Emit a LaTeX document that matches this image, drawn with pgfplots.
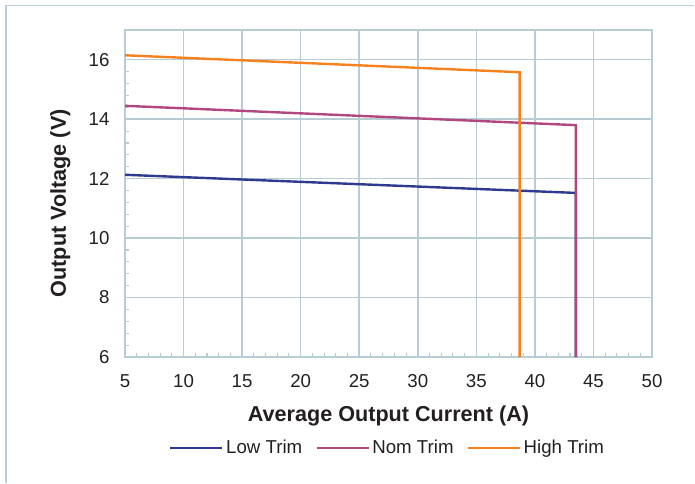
\documentclass[border=0pt]{standalone}
\usepackage{fontspec}
\setmainfont{Liberation Sans}
\usepackage{pgfplots}
\pgfplotsset{compat=1.18}
\definecolor{gridc}{HTML}{B8CCD4}
\definecolor{framec}{HTML}{B5D0D8}
\definecolor{lowc}{HTML}{2E3A8F}
\definecolor{nomc}{HTML}{B0487F}
\definecolor{highc}{HTML}{F5821F}
\definecolor{txt}{HTML}{231F20}
\begin{document}
\begin{tikzpicture}
\useasboundingbox (0pt,0pt) rectangle (521.25pt,-362.25pt);
\draw[framec, line width=1.2pt] (4.5pt,-362.25pt) -- (4.5pt,-4.1pt) -- (520.5pt,-4.1pt);
\begin{axis}[
  at={(93.75pt,-267.75pt)}, anchor=south west,
  scale only axis, width=395.25pt, height=245.25pt,
  xmin=5, xmax=50, ymin=6, ymax=17,
  xtick={5,10,...,50}, ytick={6,8,...,16},
  minor x tick num=4, minor y tick num=4,
  tick pos=left, tick align=inside,
  major tick length=0pt, minor tick length=3pt,
  every tick/.style={gridc, line width=0.8pt},
  grid=major,
  major grid style={gridc, line width=1.1pt},
  axis line style={gridc, line width=1.1pt},
  font=\fontsize{14pt}{16pt}\selectfont\color{txt},
  /pgf/number format/assume math mode=true,
  xticklabel shift=9.4pt,
  yticklabel shift=8.1pt,
  xlabel={\bfseries Average Output Current (A)},
  ylabel={\bfseries Output Voltage (V)},
  xlabel style={font=\fontsize{16.2pt}{18pt}\selectfont\color{txt}, at={(axis description cs:0.5,-0.196)}, anchor=base},
  ylabel style={font=\fontsize{16.2pt}{18pt}\selectfont\color{txt}, at={(axis description cs:-0.112,0.47)}, anchor=base},
  legend columns=3,
  legend style={draw=none, fill=none, at={(axis description cs:0.499,-0.278)}, anchor=center,
    font=\fontsize{14pt}{16pt}\selectfont\color{txt},
    /tikz/every even column/.append style={column sep=8pt}},
  legend image code/.code={\draw[#1, line width=1.6pt] (-2.5pt,0pt) -- (36.5pt,0pt);},
  every axis plot/.append style={line width=1.8pt, line join=miter},
]
\addplot[lowc] coordinates {(5,12.13) (43.5,11.52) (43.5,6)};
\addlegendentry{Low Trim}
\addplot[nomc] coordinates {(5,14.45) (43.5,13.8) (43.5,6)};
\addlegendentry{Nom Trim}
\addplot[highc] coordinates {(5,16.15) (38.7,15.58) (38.7,6)};
\addlegendentry{High Trim}
\end{axis}
\end{tikzpicture}
\end{document}
